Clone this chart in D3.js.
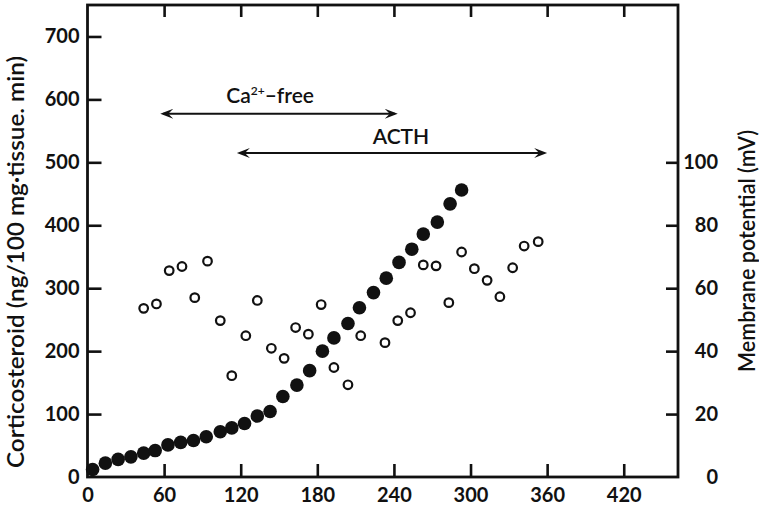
<!DOCTYPE html>
<html>
<head>
<meta charset="utf-8">
<script src="https://cdn.jsdelivr.net/npm/d3@7"></script>
<style>
  body { margin: 0; background: #fff; }
  svg { display: block; }
  text { font-family: Lato, "Open Sans", sans-serif; fill: #111; }
</style>
</head>
<body>
<div id="vis"></div>
<script>
// filled circles: corticosteroid output (left axis)
const steroidTime = [4, 14, 24, 34, 44, 53, 63, 73, 83, 93, 104, 113, 123, 133, 143,
                     153, 164, 174, 184, 193, 204, 213, 224, 234, 244, 254, 263, 274, 284, 293];
const steroidValue = [12, 22, 28, 32, 38, 42, 51, 55, 58, 64, 72, 78, 85, 97, 104,
                      128, 146, 169, 200, 221, 244, 269, 293, 316, 341, 362, 386, 405, 434, 456];

// open circles: membrane potential (right axis, mV)
const potentialTime = [44, 54, 64, 74, 84, 94, 104, 113, 124, 133, 144, 154, 163, 173, 183, 193,
                       204, 214, 233, 243, 253, 263, 273, 283, 293, 303, 313, 323, 333, 342, 353];
const potentialValue = [53.6, 55.0, 65.6, 66.9, 57.0, 68.6, 49.7, 32.2, 44.9, 56.1, 40.9, 37.7, 47.5, 45.4, 54.8, 34.8,
                        29.3, 44.9, 42.7, 49.7, 52.2, 67.4, 67.1, 55.4, 71.5, 66.2, 62.5, 57.3, 66.5, 73.4, 74.8];

const xTicks = [0, 60, 120, 180, 240, 300, 360, 420];
const leftTicks = [0, 100, 200, 300, 400, 500, 600, 700];
const rightTicks = [0, 20, 40, 60, 80, 100];

// treatment periods: label, start, end, level on left axis
const periods = [
  { label: "Ca", sup: "2+", tail: "–free", start: 57, end: 243, level: 577, textX: 143, textY: 594 },
  { label: "ACTH", sup: "", tail: "", start: 117, end: 360, level: 515, textX: 245.5, textY: 529 }
];

const width = 759, height = 510;
const plotLeft = 87.5, plotRight = 678, plotTop = 5, plotBottom = 477;

const svg = d3.select("#vis").append("svg")
    .attr("width", width)
    .attr("height", height);

const x = d3.scaleLinear().domain([0, 462.5]).range([plotLeft, plotRight]);
const yL = d3.scaleLinear().domain([0, 750]).range([plotBottom, plotTop]);
const yR = d3.scaleLinear().domain([0, 150]).range([plotBottom, plotTop]);

const tickFont = (sel) => sel.selectAll("text")
    .style("font-size", "20px")
    .style("font-weight", "700")
    .style("font-family", "Lato, sans-serif")
    .attr("fill", "#111");

const cleanAxis = (g) => {
  g.select(".domain").remove();
  g.selectAll(".tick line").attr("stroke", "#111").attr("stroke-width", 2.6);
};

// bottom axis, ticks pointing inward
svg.append("g")
    .attr("transform", `translate(0,${plotBottom})`)
    .call(d3.axisBottom(x).tickValues(xTicks).tickSizeInner(-13).tickSizeOuter(0).tickPadding(11))
    .call(cleanAxis)
    .call(tickFont)
    .selectAll(".tick").filter((d) => d === 0).select("line").remove();

// top axis, ticks only
svg.append("g")
    .attr("transform", `translate(0,${plotTop})`)
    .call(d3.axisTop(x).tickValues(xTicks.slice(1)).tickSizeInner(-12).tickSizeOuter(0).tickFormat(""))
    .call(cleanAxis);

// left axis
svg.append("g")
    .attr("transform", `translate(${plotLeft},0)`)
    .call(d3.axisLeft(yL).tickValues(leftTicks).tickSizeInner(-14).tickSizeOuter(0).tickPadding(8))
    .call(cleanAxis)
    .call(tickFont)
    .selectAll(".tick").filter((d) => d === 0).select("line").remove();

// right axis, labels right-aligned
const rAxis = svg.append("g")
    .attr("transform", `translate(${plotRight},0)`)
    .call(d3.axisRight(yR).tickValues(rightTicks).tickSizeInner(-12).tickSizeOuter(0))
    .call(cleanAxis)
    .call(tickFont);
rAxis.selectAll(".tick").filter((d) => d === 0).select("line").remove();
rAxis.selectAll("text").attr("text-anchor", "end").attr("x", 40);

// frame
svg.append("rect")
    .attr("x", plotLeft).attr("y", plotTop)
    .attr("width", plotRight - plotLeft).attr("height", plotBottom - plotTop)
    .attr("fill", "none")
    .attr("stroke", "#111")
    .attr("stroke-width", 2.8);

// axis titles
svg.append("text")
    .attr("transform", "translate(24,262) rotate(-90)")
    .attr("text-anchor", "middle")
    .attr("textLength", 412)
    .attr("lengthAdjust", "spacingAndGlyphs")
    .style("font-size", "22px")
    .style("font-weight", "600")
    .text("Corticosteroid (ng/100 mg·tissue. min)");

svg.append("text")
    .attr("transform", "translate(755,251) rotate(-90)")
    .attr("text-anchor", "middle")
    .attr("textLength", 242)
    .attr("lengthAdjust", "spacingAndGlyphs")
    .style("font-size", "22px")
    .style("font-weight", "600")
    .text("Membrane potential (mV)");

// period arrows
const head = (tipX, tipY, dir) => {
  const b = 13 * dir, n = 8 * dir;
  return `M${tipX},${tipY} L${tipX + b},${tipY - 5} L${tipX + n},${tipY} L${tipX + b},${tipY + 5} Z`;
};

const arrows = svg.append("g").selectAll("g")
    .data(periods)
    .enter().append("g");

arrows.append("line")
    .attr("x1", (d) => x(d.start) + 3)
    .attr("x2", (d) => x(d.end) - 3)
    .attr("y1", (d) => yL(d.level))
    .attr("y2", (d) => yL(d.level))
    .attr("stroke", "#111")
    .attr("stroke-width", 2);

arrows.append("path")
    .attr("d", (d) => head(x(d.start), yL(d.level), 1) + head(x(d.end), yL(d.level), -1))
    .attr("fill", "#111");

const labels = arrows.append("text")
    .attr("x", (d) => x(d.textX))
    .attr("y", (d) => yL(d.textY))
    .attr("text-anchor", "middle")
    .style("font-size", "21px")
    .style("font-weight", "600");
labels.append("tspan").text((d) => d.label);
labels.append("tspan")
    .attr("dy", -8)
    .style("font-size", "12px")
    .text((d) => d.sup);
labels.append("tspan")
    .attr("dy", (d) => d.sup ? 8 : 0)
    .text((d) => d.tail);

// membrane potential points (open)
svg.append("g").selectAll("circle")
    .data(potentialTime.map((t, i) => [t, potentialValue[i]]))
    .enter().append("circle")
    .attr("cx", (d) => x(d[0]))
    .attr("cy", (d) => yR(d[1]))
    .attr("r", 4.3)
    .attr("fill", "#fff")
    .attr("stroke", "#111")
    .attr("stroke-width", 2.2);

// corticosteroid points (filled)
svg.append("g").selectAll("circle")
    .data(steroidTime.map((t, i) => [t, steroidValue[i]]))
    .enter().append("circle")
    .attr("cx", (d) => x(d[0]))
    .attr("cy", (d) => yL(d[1]))
    .attr("r", 6.8)
    .attr("fill", "#111");
</script>
</body>
</html>
